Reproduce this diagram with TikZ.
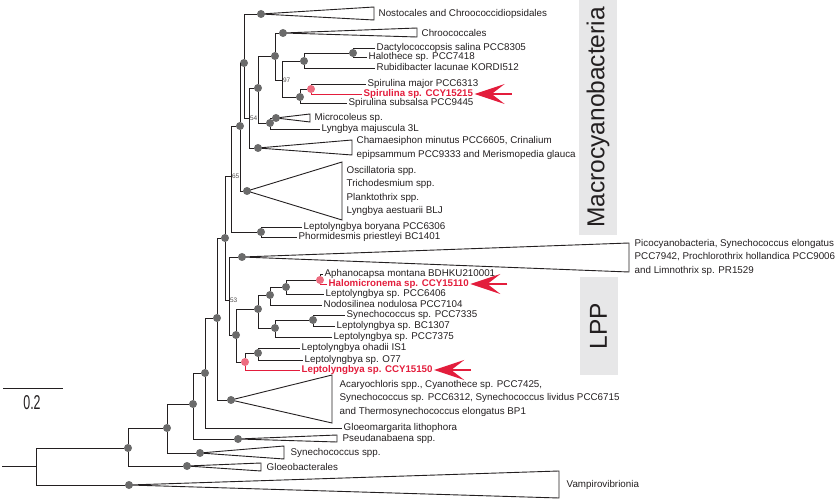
\documentclass[tikz,border=0pt]{standalone}
\usepackage{fontspec}
\setmainfont{Liberation Sans}
\usetikzlibrary{arrows.meta,backgrounds}
\definecolor{hlred}{RGB}{227,29,60}
\definecolor{boxgray}{RGB}{231,231,232}
\definecolor{ink}{RGB}{35,31,32}
\begin{document}
\begin{tikzpicture}[x=1pt,y=-1pt,
	branch/.style={draw=ink,line width=0.9pt},
	redbranch/.style={draw=hlred,line width=0.9pt},
	dot/.style={circle,fill=black!58,inner sep=0pt,minimum size=8pt},
	reddot/.style={dot,fill=hlred!65},
	taxon/.style={anchor=west,inner sep=1.5pt,text height=7.2pt,text depth=2.1pt,text=ink,font=\fontsize{9.8}{12}\selectfont},
	redtaxon/.style={taxon,text=hlred,font=\fontsize{9.7}{12}\selectfont\bfseries},
	group/.style={anchor=west,align=left,inner sep=1.5pt,text=ink,font=\fontsize{9.8}{13.5}\selectfont},
	support/.style={anchor=west,inner sep=0.8pt,text=ink!80,font=\fontsize{6.5}{7}\selectfont},
	pointer/.style={draw=hlred,line width=1.2pt,-{Stealth[length=30pt,width=20pt,inset=13pt]}},
	cladebox/.style={rotate=90,fill=boxgray,text=ink,minimum height=38pt,font=\fontsize{24.5}{26}\selectfont}]
\useasboundingbox (0,0) rectangle (838,502);

% nodes of the tree
\foreach \n/\x/\y in {n1/128/448,n2/167/428,n3/193/404,n4/205/373,n5/217/318,n6/225/238,
	n12/240/126,n13/244/63,n14/258/88,n15/275/56,n17/304/61,n18/353/53,n19/300/97,n16/270/123,
	bor/261/232,n8/236/335,n9/258/309,n10/270/295,n21/286/287,n23/275/328,n24/313/320,n26/258/353,
	nosto/261/14,chroo/283/33,micro/276/118,chama/258/148,oscil/247/191,pico/242/257,
	acary/231/400,pseud/238/439,synspp/200/453,gloeob/187/466,vampi/129/485}
	\node[dot] (\n) at (\x,\y) {};
\foreach \n/\x/\y in {n20/311/89,n22/320/280,n25/245/362}
	\node[reddot] (\n) at (\x,\y) {};
\foreach \n/\x/\y in {stub/2/466,root/36/466,b65/231/176,b54/249/118,b97/282/80,b53/229/300}
	\coordinate (\n) at (\x,\y);

% leaves
\node[taxon] (dacty) at (375,48) {Dactylococcopsis salina PCC8305};
\node[taxon] (halo) at (367,57) {Halothece sp. PCC7418};
\node[taxon] (rubi) at (375,68) {Rubidibacter lacunae KORDI512};
\node[taxon] (spmaj) at (366,84) {Spirulina major PCC6313};
\node[redtaxon] (spccy) at (362,94) {Spirulina sp. CCY15215};
\node[taxon] (spsub) at (347,103) {Spirulina subsalsa PCC9445};
\node[taxon] (lynmaj) at (320,129) {Lyngbya majuscula 3L};
\node[taxon] (lbor) at (302,227) {Leptolyngbya boryana PCC6306};
\node[taxon] (phorm) at (297,237) {Phormidesmis priestleyi BC1401};
\node[taxon] (aphano) at (323,274) {Aphanocapsa montana BDHKU210001};
\node[redtaxon] (halomic) at (327,284) {Halomicronema sp. CCY15110};
\node[taxon] (l6406) at (324,294) {Leptolyngbya sp. PCC6406};
\node[taxon] (nodos) at (322,305) {Nodosilinea nodulosa PCC7104};
\node[taxon] (syn7335) at (345,315) {Synechococcus sp. PCC7335};
\node[taxon] (lbc1307) at (335,326) {Leptolyngbya sp. BC1307};
\node[taxon] (l7375) at (332,337) {Leptolyngbya sp. PCC7375};
\node[taxon] (lohad) at (300,348) {Leptolyngbya ohadii IS1};
\node[taxon] (lo77) at (303,360) {Leptolyngbya sp. O77};
\node[redtaxon] (lccy) at (300,370) {Leptolyngbya sp. CCY15150};
\node[taxon] (gloeom) at (342,428) {Gloeomargarita lithophora};

% branches
\draw[branch] (stub) -- (root);
\foreach \p/\c in {root/n1,root/vampi,n1/n2,n1/gloeob,n2/n3,n2/synspp,n3/n4,n3/pseud,
	n4/n5,n4/gloeom,n5/n6,n5/acary,n6/b65,n6/b53,b65/n12,b65/bor,n12/n13,n12/oscil,
	n13/nosto,n13/b54,b54/n14,b54/chama,n14/n15,n14/n16,n15/chroo,n15/b97,b97/n17,b97/n19,
	n17/n18,n17/rubi,n18/dacty,n18/halo,n19/n20,n19/spsub,n20/spmaj,n16/micro,n16/lynmaj,
	bor/lbor,bor/phorm,b53/pico,b53/n8,n8/n9,n8/n25,n9/n10,n9/n23,n10/n21,n10/nodos,
	n21/n22,n21/l6406,n22/aphano,n23/n24,n23/l7375,n24/syn7335,n24/lbc1307,n25/n26,
	n26/lohad,n26/lo77}
	\draw[branch] (\p) |- (\c);
\foreach \p/\c in {n20/spccy,n22/halomic,n25/lccy}
	\draw[redbranch] (\p) |- (\c);

% collapsed clades
\begin{scope}[on background layer]
\foreach \a/\rx/\t/\b in {nosto/374/7/20,chroo/417/28/37,micro/310/114/122,chama/352/140/155,
	oscil/342/162/220,pico/629/243/272,acary/332/375/423,pseud/337/435/442,
	synspp/284/446/459,gloeob/261/463/471,vampi/559/471/498}
	\draw[branch] (\a.center) -- (\rx,\t) -- (\rx,\b) -- cycle;
\end{scope}
\node[group] (nostolab) at (377,14) {Nostocales and Chroococcidiopsidales};
\node[group] (chroolab) at (420,33) {Chroococcales};
\node[group] (microlab) at (313,118) {Microcoleus sp.};
\node[group] (chamalab) at (355,148) {Chamaesiphon minutus PCC6605, Crinalium\\epipsammum PCC9333 and Merismopedia glauca};
\node[group] (oscillab) at (345,191) {Oscillatoria spp.\\Trichodesmium spp.\\Planktothrix spp.\\Lyngbya aestuarii BLJ};
\node[group] (picolab) at (633,257) {Picocyanobacteria, Synechococcus elongatus\\PCC7942, Prochlorothrix hollandica PCC9006\\and Limnothrix sp. PR1529};
\node[group] (acarylab) at (338,398) {Acaryochloris spp., Cyanothece sp. PCC7425,\\Synechococcus sp. PCC6312, Synechococcus lividus PCC6715\\and Thermosynechococcus elongatus BP1};
\node[group] (pseudlab) at (341,439) {Pseudanabaena spp.};
\node[group] (synspplab) at (289,453) {Synechococcus spp.};
\node[group] (gloeoblab) at (265,467) {Gloeobacterales};
\node[group] (vampilab) at (565,485) {Vampirovibrionia};

% support values
\node[support] at (b97) {97};
\node[support] at (b54) {54};
\node[support] at (b65) {65};
\node[support] at (b53) {53};

% new strains
\foreach \s in {spccy,halomic,lccy}
	{\coordinate (\s tail) at ([xshift=37pt]\s.east);
	 \draw[pointer] (\s tail) -- (\s.east);}

% groups
\node[cladebox,minimum width=235pt] (macro) at (598,117.5) {Macrocyanobacteria};
\node[cladebox,minimum width=98pt] (lpp) at (598.5,326) {LPP};

% scale
\coordinate (sbl) at (3,388);
\coordinate (sbr) at (63,388);
\draw[branch] (sbl) -- (sbr);
\node[text=ink,font=\fontsize{20}{22}\selectfont] (scalelab) at (32,402.5) {\scalebox{0.62}[1]{0.2}};
\end{tikzpicture}
\end{document}
